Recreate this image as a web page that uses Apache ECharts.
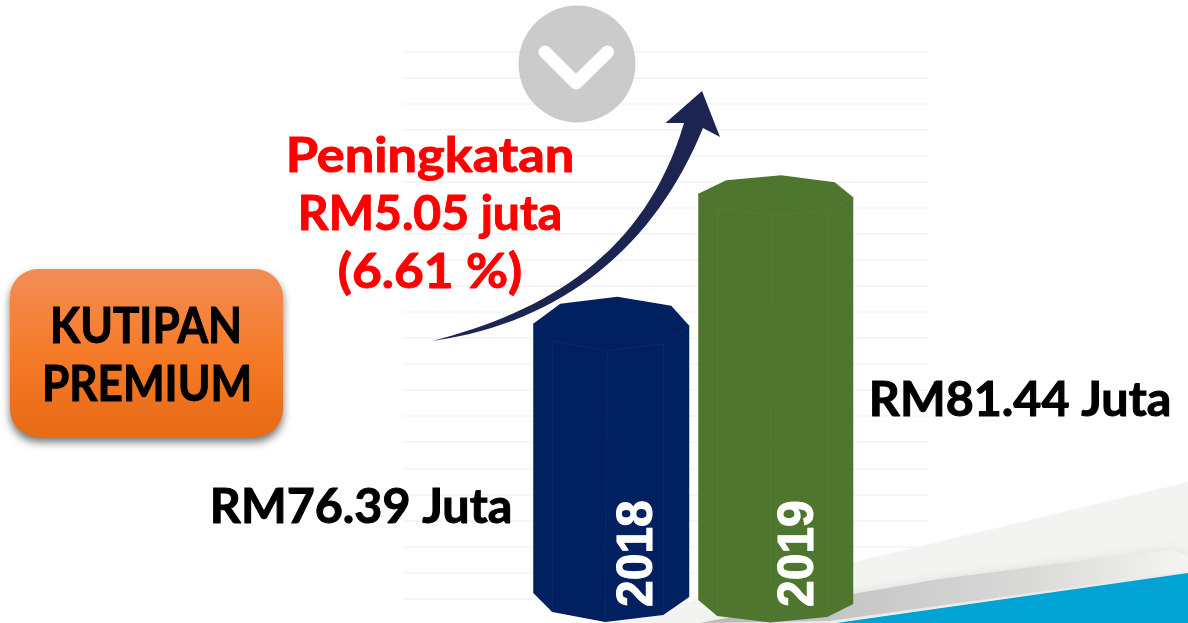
<!DOCTYPE html>
<html>
<head>
<meta charset="utf-8">
<title>Kutipan Premium</title>
<style>
  html, body { margin: 0; padding: 0; background: #fff; }
  #chart { width: 1188px; height: 623px; }
</style>
</head>
<body>
<div id="chart"></div>
<script src="https://cdn.jsdelivr.net/npm/echarts@6/dist/echarts.min.js"></script>
<script>
// data
const years = ["2018", "2019"];
const premium = [76.39, 81.44];
const increaseLines = ["Peningkatan", "RM5.05 juta", "(6.61 %)"];
const titleLines = ["KUTIPAN", "PREMIUM"];

const FONT = "Lato, sans-serif";
const barColors = ["#002060", "#4e762e"];
const edgeColors = ["#0a2a66", "#547c34"];

// prism outline, in px relative to bar centre / value point / axis base
const prisms = [
  {
    top: [[-78, -4], [-51, -24], [6, -31], [60, -22], [78, -2]],
    rim: [[-59, 13], [-4, 23], [52, 16]],
    base: [[-78, -5.5], [-59, 13.5], [-6, 23.5], [52, 16.5], [78, -1.5]]
  },
  {
    top: [[-77.5, -2.5], [-49.5, -16], [5.5, -21], [59, -14], [77.5, 1]],
    rim: [[-58.5, 12], [-4.5, 19], [51.5, 15]],
    base: [[-77.5, 1.5], [-58.5, 17.5], [-5.5, 24], [51.5, 18.5], [77.5, 5.5]]
  }
];
const yearOffsets = [27, 23];

const yMin = 66;
const yMax = 87;

const renderPrism = function (params, api) {
  const i = params.dataIndex;
  const p = api.coord([api.value(0), api.value(1)]);
  const b = api.coord([api.value(0), yMin]);
  const s = prisms[i];
  const top = s.top.map((o) => [p[0] + o[0], p[1] + o[1]]);
  const rim = s.rim.map((o) => [p[0] + o[0], p[1] + o[1]]);
  const base = s.base.map((o) => [p[0] + o[0], b[1] + o[1]]);
  const edge = { stroke: edgeColors[i], lineWidth: 1, fill: null };
  const children = [
    {
      type: "polygon",
      shape: { points: top.concat(base.slice().reverse()) },
      style: { fill: barColors[i] }
    },
    {
      type: "polyline",
      shape: { points: [top[0], rim[0], rim[1], rim[2], top[4]] },
      style: edge
    }
  ];
  rim.forEach((r, k) => {
    children.push({
      type: "line",
      shape: { x1: r[0], y1: r[1], x2: base[k + 1][0], y2: base[k + 1][1] },
      style: { stroke: edgeColors[i], lineWidth: 1 }
    });
  });
  children.push({
    type: "text",
    x: p[0] + yearOffsets[i],
    y: 607,
    rotation: Math.PI / 2,
    scaleY: 1.05,
    style: {
      text: years[i],
      fill: "#fff",
      stroke: "#fff",
      lineWidth: 1,
      font: "bold 48px 'Liberation Sans', sans-serif",
      textAlign: "left",
      textVerticalAlign: "middle"
    }
  });
  return { type: "group", children: children };
};

// scaleX squeezes or widens the line to the width seen in the picture
const textEl = (text, x, y, size, fill, scaleX) => ({
  type: "text",
  z: 20,
  x: x,
  y: y,
  scaleX: scaleX,
  style: {
    text: text,
    x: 0,
    y: 0,
    fill: fill,
    stroke: fill,
    lineWidth: 1,
    font: "bold " + size + "px " + FONT,
    textAlign: "center",
    textVerticalAlign: "middle"
  }
});

// graphic has no path type, so sample the arrow's curves
const curve = (a, b, c, d) => {
  const pts = [];
  for (let k = 0; k <= 32; k++) {
    const t = k / 32;
    const u = 1 - t;
    pts.push([
      u * u * u * a[0] + 3 * u * u * t * b[0] + 3 * u * t * t * c[0] + t * t * t * d[0],
      u * u * u * a[1] + 3 * u * u * t * b[1] + 3 * u * t * t * c[1] + t * t * t * d[1]
    ]);
  }
  return pts;
};
const arrowPoints = curve([432, 341], [545, 312], [645, 255], [684, 123])
  .concat([[665.5, 123], [702, 91], [720, 137]])
  .concat(curve([703, 128], [655, 245], [565, 322], [432, 341]));

const option = {
  animation: false,
  backgroundColor: "#fff",
  grid: [
    { left: 404, right: 260, top: 51.5, bottom: 24.5 },
    { left: 529, width: 329, top: 51.5, bottom: 24.5 }
  ],
  xAxis: [
    { type: "value", gridIndex: 0, show: false },
    { type: "category", gridIndex: 1, data: years, show: false }
  ],
  yAxis: [
    {
      type: "value",
      gridIndex: 0,
      min: yMin,
      max: yMax,
      interval: 1,
      axisLine: { show: false },
      axisTick: { show: false },
      axisLabel: { show: false },
      splitLine: { lineStyle: { color: "#f3f3f3", width: 1.5 } }
    },
    { type: "value", gridIndex: 1, min: yMin, max: yMax, interval: 1, show: false }
  ],
  series: [
    {
      type: "custom",
      xAxisIndex: 1,
      yAxisIndex: 1,
      z: 5,
      renderItem: renderPrism,
      data: years.map((y, i) => [y, premium[i]])
    }
  ],
  graphic: [
    // bottom right swoosh: pale sheet, soft shadow band, blue wedge
    {
      type: "polygon",
      z: 1,
      shape: { points: [[600, 623], [1188, 482], [1188, 573], [829, 623]] },
      style: { fill: "#f3f3f1" }
    },
    {
      type: "polygon",
      z: 1,
      shape: { points: [[700, 623], [853, 594], [940, 579], [1173, 549], [1188, 556], [1188, 571], [829, 621]] },
      style: {
        fill: {
          type: "linear", x: 700, y: 0, x2: 1180, y2: 0, global: true,
          colorStops: [
            { offset: 0, color: "#b8b8b8" },
            { offset: 0.4, color: "#cbcbcb" },
            { offset: 0.7, color: "#dadad9" },
            { offset: 1, color: "#f3f3f1" }
          ]
        },
        shadowBlur: 10,
        shadowColor: "rgba(215,215,213,0.8)"
      }
    },
    {
      type: "polygon",
      z: 1,
      shape: { points: [[829, 624], [1188, 573], [1188, 623], [829, 623]] },
      style: { fill: "#00a3d3" }
    },
    // grey circle with chevron
    { type: "circle", z: 1, shape: { cx: 577, cy: 64, r: 58.5 }, style: { fill: "rgba(190,190,190,0.8)" } },
    {
      type: "polyline",
      z: 1,
      shape: { points: [[545, 52], [576, 83], [607.5, 52]] },
      style: { stroke: "#fff", lineWidth: 13, lineCap: "round", lineJoin: "round", fill: null }
    },
    // rising arrow
    { type: "polygon", z: 10, shape: { points: arrowPoints }, style: { fill: "#1c2452" } },
    // title button
    {
      type: "rect",
      z: 10,
      shape: { x: 10, y: 269, width: 273, height: 168, r: 28 },
      style: {
        fill: {
          type: "linear", x: 0, y: 0, x2: 0, y2: 1,
          colorStops: [
            { offset: 0, color: "#f28d57" },
            { offset: 0.5, color: "#f67b28" },
            { offset: 1, color: "#e76a15" }
          ]
        },
        shadowBlur: 9,
        shadowOffsetY: 5,
        shadowColor: "rgba(0,0,0,0.55)"
      }
    },
    textEl(titleLines[0], 146, 327, 49, "#000", 0.9),
    textEl(titleLines[1], 147, 385, 49, "#000", 0.9),
    textEl(increaseLines[0], 430, 157, 48, "#ff0000", 1.09),
    textEl(increaseLines[1], 430, 215, 48, "#ff0000", 1),
    textEl(increaseLines[2], 430, 273, 48, "#ff0000", 1.07),
    textEl("RM" + premium[0] + " Juta", 361, 508, 47, "#000", 1.03),
    textEl("RM" + premium[1] + " Juta", 1020, 401, 47, "#000", 1.03)
  ]
};

const myChart = echarts.init(document.getElementById("chart"));
myChart.setOption(option);
</script>
</body>
</html>
